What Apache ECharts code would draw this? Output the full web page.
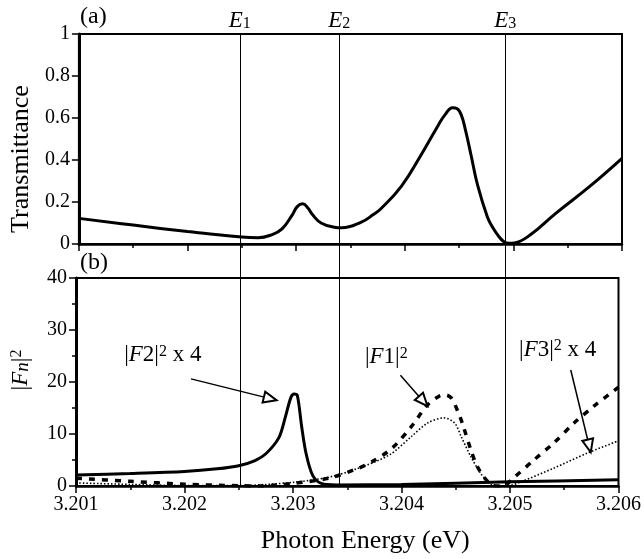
<!DOCTYPE html>
<html>
<head>
<meta charset="utf-8">
<script src="https://cdn.jsdelivr.net/npm/echarts@6/dist/echarts.min.js"></script>
<style>
html, body { margin: 0; padding: 0; background: #fff; }
#chart { width: 644px; height: 559px; }
</style>
</head>
<body>
<div id="chart"></div>
<script>
// panel (a): transmittance vs photon energy (eV)
const transEnergy = [3.20100, 3.20150, 3.20200, 3.20215, 3.20250, 3.20265, 3.20278, 3.20287, 3.20296, 3.20301,
    3.20306, 3.20311, 3.20315, 3.20323, 3.20335, 3.20342, 3.20360, 3.20371, 3.20378, 3.20397,
    3.20415, 3.20431, 3.20437, 3.20444, 3.20448, 3.20452, 3.20456, 3.20461, 3.20467,
    3.20476, 3.20481, 3.20486, 3.20491, 3.20496, 3.20501, 3.20516, 3.20539, 3.20570, 3.20600];
const transValue = [0.122, 0.090, 0.059, 0.051, 0.033, 0.030, 0.045, 0.072, 0.135, 0.178,
    0.192, 0.170, 0.140, 0.100, 0.080, 0.077, 0.104, 0.140, 0.168, 0.276,
    0.424, 0.567, 0.615, 0.649, 0.645, 0.615, 0.540, 0.424, 0.281,
    0.130, 0.078, 0.040, 0.012, 0.003, 0.005, 0.045, 0.146, 0.273, 0.408];

// panel (b): |F2|^2 x 4 (solid)
const f2Energy = [3.20100, 3.20150, 3.20200, 3.20230, 3.20250, 3.20265, 3.20275, 3.20287, 3.20293, 3.20298,
    3.20301, 3.20304, 3.20308, 3.20312, 3.20318, 3.20326, 3.20340, 3.20400, 3.20500, 3.20600];
const f2Value = [2.1, 2.4, 2.8, 3.3, 3.9, 4.9, 6.2, 9.3, 13.3, 17.0,
    17.7, 17.4, 11.4, 6.3, 2.1, 0.5, 0.2, 0.3, 0.8, 1.2];

// |F1|^2 (dashed)
const f1Energy = [3.20100, 3.20150, 3.20200, 3.20250, 3.20270, 3.20300, 3.20333, 3.20360, 3.20373, 3.20391,
    3.20409, 3.20424, 3.20435, 3.20441, 3.20446, 3.20452, 3.20456, 3.20464, 3.20470, 3.20478,
    3.20484, 3.20493, 3.20504, 3.20522, 3.20540, 3.20559, 3.20577, 3.20600];
const f1Value = [1.5, 0.9, 0.35, 0.05, 0.0, 0.5, 1.5, 3.4, 4.7, 7.2,
    11.4, 15.6, 17.3, 17.5, 16.9, 14.3, 12.1, 6.9, 3.7, 1.2,
    0.1, 0.0, 1.7, 5.0, 8.2, 12.1, 15.3, 19.0];

// |F3|^2 x 4 (dotted)
const f3Energy = [3.20100, 3.20150, 3.20200, 3.20250, 3.20300, 3.20333, 3.20360, 3.20389, 3.20409, 3.20424,
    3.20439, 3.20449, 3.20455, 3.20464, 3.20473, 3.20478, 3.20482, 3.20490, 3.20500, 3.20510,
    3.20540, 3.20571, 3.20600];
const f3Value = [0.6, 0.3, 0.1, 0.1, 0.7, 1.7, 3.4, 6.0, 9.5, 12.1,
    13.1, 12.1, 9.5, 5.6, 2.4, 1.2, 0.3, 0.0, 0.1, 0.8,
    3.4, 6.3, 8.7];

// resonance energies E1, E2, E3
const levelEnergy = [3.20250, 3.20341, 3.20493];
const levelIndex = ['1', '2', '3'];

// annotation arrows in panel (b): [start, end] in data units
const arrowFrom = [[3.20206, 20.6], [3.20399, 21.3], [3.20556, 22.3]];
const arrowTo = [[3.20279, 16.8], [3.20420, 16.3], [3.20573, 7.7]];
const noteAt = [[3.20180, 25.2], [3.20386, 24.8], [3.20544, 26.2]];
const noteText = ['|{i|F}2|{sup|2} x 4', '|{i|F}1|{sup|2}', '|{i|F}3|{sup|2} x 4'];

const serif = 'Liberation Serif';
const zip = (xs, ys) => xs.map((x, i) => [x, ys[i]]);

const energyAxis = (gridIndex, showLabels) => ({
    type: 'value',
    gridIndex,
    min: 3.201,
    max: 3.206,
    interval: 0.001,
    axisLine: { onZero: false, lineStyle: { color: '#000', width: 2.5 } },
    axisTick: { length: 7, lineStyle: { color: '#000', width: 1.5 } },
    minorTick: { show: true, splitNumber: 2, length: 4, lineStyle: { color: '#000', width: 1.5 } },
    axisLabel: {
        show: showLabels, color: '#000', fontFamily: serif, fontSize: 20, margin: 9,
        formatter: v => v.toFixed(3)
    },
    splitLine: { show: false }
});

const supRich = {
    i: { fontStyle: 'italic', fontFamily: serif, fontSize: 23, color: '#000' },
    sup: { fontFamily: serif, fontSize: 16, color: '#000', verticalAlign: 'top', padding: [0, 0, 6, 0] }
};

const chart = echarts.init(document.getElementById('chart'));

const option = {
    animation: false,
    backgroundColor: '#fff',
    grid: [
        { left: 76, top: 34, width: 546, height: 210, show: true, borderColor: '#000', borderWidth: 2 },
        { left: 76, top: 278, width: 546, height: 208, show: true, borderColor: '#000', borderWidth: 2 },
        { left: 76, top: 34, width: 546, height: 452 }
    ],
    xAxis: [
        energyAxis(0, false),
        Object.assign(energyAxis(1, true), {
            name: 'Photon Energy (eV)',
            nameLocation: 'middle',
            nameGap: 42,
            nameTextStyle: { color: '#000', fontFamily: serif, fontSize: 26, padding: [0, 0, 0, 36] }
        }),
        {
            type: 'value', gridIndex: 2, min: 3.201, max: 3.206,
            axisLine: { show: false }, axisTick: { show: false }, axisLabel: { show: false }, splitLine: { show: false }
        }
    ],
    yAxis: [
        {
            type: 'value', gridIndex: 0, min: 0, max: 1, interval: 0.2,
            name: 'Transmittance',
            nameLocation: 'middle',
            nameGap: 44,
            nameTextStyle: { color: '#000', fontFamily: serif, fontSize: 26, padding: [0, 40, 0, 0] },
            axisLine: { show: true, lineStyle: { color: '#000', width: 3 } },
            axisTick: { show: true, length: 7, lineStyle: { color: '#000', width: 1.5 } },
            axisLabel: { color: '#000', fontFamily: serif, fontSize: 20, margin: 9 },
            splitLine: { show: false }
        },
        {
            type: 'value', gridIndex: 1, min: 0, max: 40, interval: 10,
            name: '|{i|F}{n|n}|{sup|2}',
            nameLocation: 'middle',
            nameGap: 44,
            nameTextStyle: {
                color: '#000', fontFamily: serif, fontSize: 23, padding: [0, 0, 0, 24],
                rich: Object.assign({ n: { fontStyle: 'italic', fontFamily: serif, fontSize: 19, color: '#000', verticalAlign: 'bottom' } }, supRich)
            },
            axisLine: { show: true, lineStyle: { color: '#000', width: 3 } },
            axisTick: { show: true, length: 7, lineStyle: { color: '#000', width: 1.5 } },
            minorTick: { show: true, splitNumber: 2, length: 4, lineStyle: { color: '#000', width: 1.5 } },
            axisLabel: { color: '#000', fontFamily: serif, fontSize: 20, margin: 9 },
            splitLine: { show: false }
        },
        {
            type: 'value', gridIndex: 2, min: 0, max: 1,
            axisLine: { show: false }, axisTick: { show: false }, axisLabel: { show: false }, splitLine: { show: false }
        }
    ],
    series: [
        {
            name: 'Transmittance', type: 'line', xAxisIndex: 0, yAxisIndex: 0,
            data: zip(transEnergy, transValue), symbol: 'none', smooth: 0.45,
            lineStyle: { color: '#000', width: 3 }
        },
        {
            name: '|F2|^2 x 4', type: 'line', xAxisIndex: 1, yAxisIndex: 1,
            data: zip(f2Energy, f2Value), symbol: 'none', smooth: 0.3,
            lineStyle: { color: '#000', width: 3 }
        },
        {
            name: '|F1|^2', type: 'line', xAxisIndex: 1, yAxisIndex: 1,
            data: zip(f1Energy, f1Value), symbol: 'none', smooth: 0.3,
            lineStyle: { color: '#000', width: 3.5, type: [6, 7] }
        },
        {
            name: '|F3|^2 x 4', type: 'line', xAxisIndex: 1, yAxisIndex: 1,
            data: zip(f3Energy, f3Value), symbol: 'none', smooth: 0.3,
            lineStyle: { color: '#000', width: 1.6, type: [1.5, 2] }
        },
        {
            name: 'notes', type: 'line', xAxisIndex: 1, yAxisIndex: 1, data: [], silent: true,
            markLine: {
                silent: true,
                symbol: ['none', 'emptyTriangle'],
                symbolSize: [11, 13],
                lineStyle: { color: '#000', width: 1.5, type: 'solid' },
                label: { show: false },
                data: arrowFrom.map((p, i) => [{ coord: p }, { coord: arrowTo[i] }])
            },
            markPoint: {
                silent: true,
                symbol: 'circle',
                symbolSize: 1,
                itemStyle: { color: 'rgba(0,0,0,0)' },
                label: {
                    show: true, position: 'inside', color: '#000', fontFamily: serif, fontSize: 23,
                    rich: supRich
                },
                data: noteAt.map((p, i) => ({ coord: p, label: { formatter: noteText[i] } }))
            }
        },
        {
            name: 'levels', type: 'line', xAxisIndex: 2, yAxisIndex: 2, data: [], silent: true,
            markLine: {
                silent: true,
                symbol: ['none', 'none'],
                lineStyle: { color: '#000', width: 1, type: 'solid' },
                label: {
                    show: true, position: 'end', distance: 2, color: '#000',
                    rich: {
                        e: { fontStyle: 'italic', fontFamily: serif, fontSize: 23, color: '#000' },
                        s: { fontFamily: serif, fontSize: 16, color: '#000', verticalAlign: 'bottom' }
                    }
                },
                data: levelEnergy.map((x, i) => [
                    { coord: [x, 0], label: { formatter: '{e|E}{s|' + levelIndex[i] + '}' } },
                    { coord: [x, 1] }
                ])
            }
        }
    ],
    graphic: [
        { type: 'text', left: 80, top: 5, style: { text: '(a)', font: '24px "Liberation Serif"', fill: '#000' } },
        { type: 'text', left: 80, top: 251, style: { text: '(b)', font: '24px "Liberation Serif"', fill: '#000' } }
    ]
};

chart.setOption(option);
</script>
</body>
</html>
